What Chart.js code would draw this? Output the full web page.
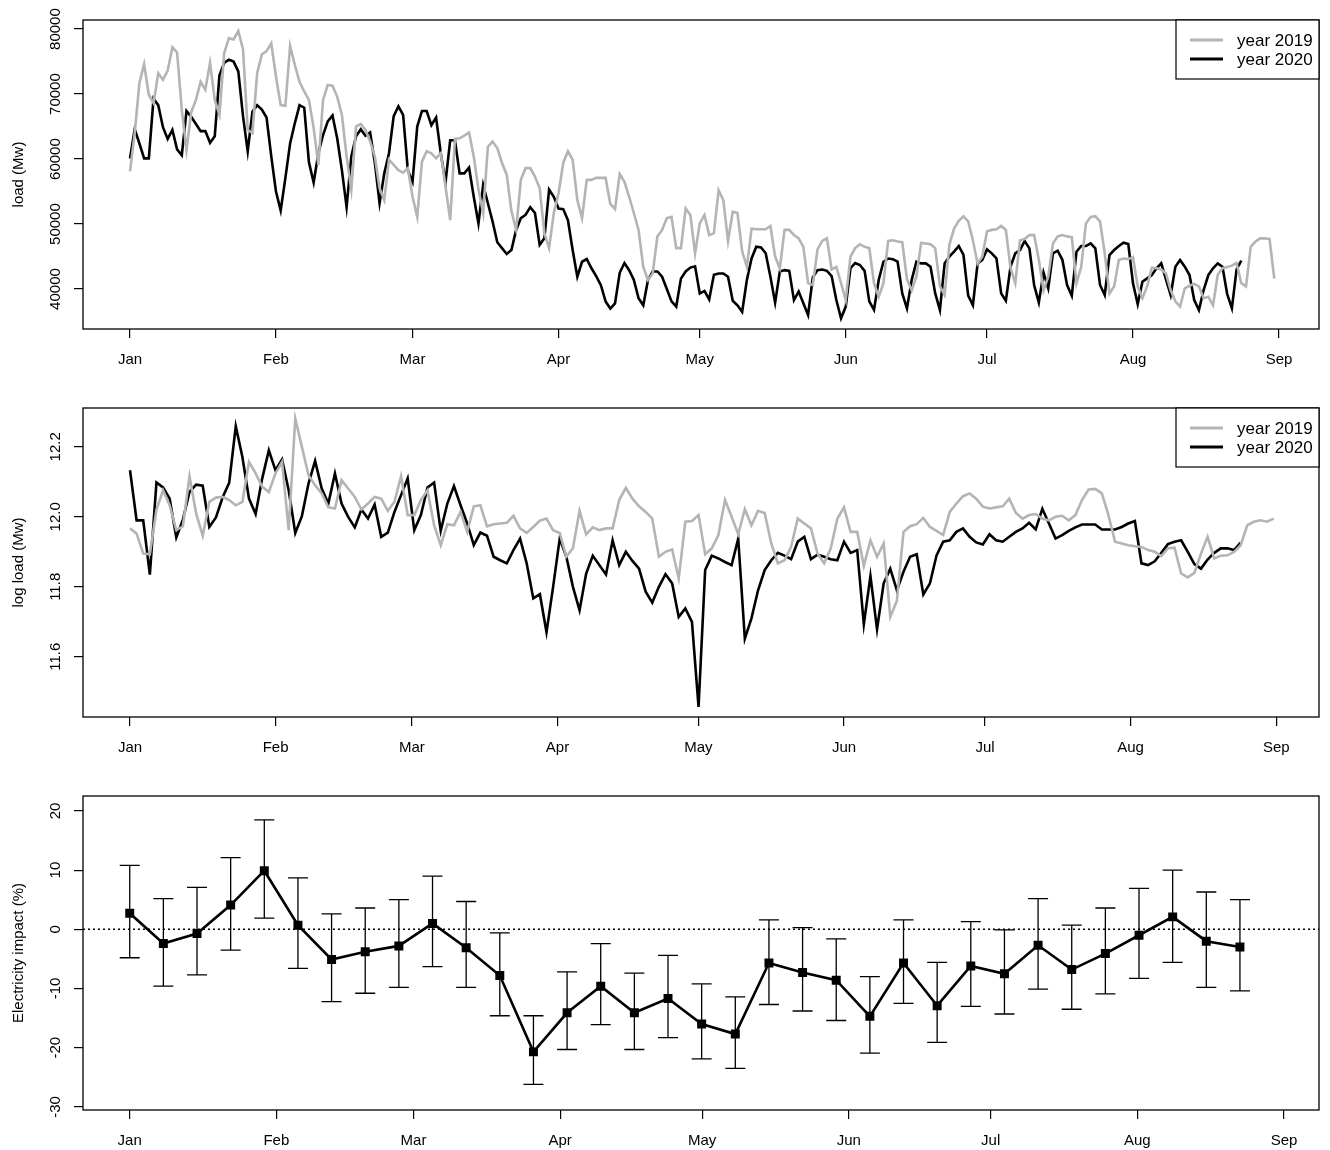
<!DOCTYPE html>
<html>
<head>
<meta charset="utf-8">
<script src="https://cdn.jsdelivr.net/npm/chart.js@4.4.0/dist/chart.umd.min.js"></script>
<style>
  body { margin: 0; background: #fff; }
  #contenedor { position: relative; width: 1330px; height: 1150px; }
  canvas { position: absolute; left: 0; }
</style>
</head>
<body>
<div id="contenedor">
  <canvas id="graficoCarga" width="1330" height="388" style="top:0"></canvas>
  <canvas id="graficoLogCarga" width="1330" height="388" style="top:388px"></canvas>
  <canvas id="graficoImpacto" width="1330" height="374" style="top:776px"></canvas>
</div>
<script>
// Ejes de meses
const meses = ['Jan', 'Feb', 'Mar', 'Apr', 'May', 'Jun', 'Jul', 'Aug', 'Sep'];
const diasMes = [0, 31, 60, 91, 121, 152, 182, 213, 244];

// Panel 1: carga diaria (Mw), un valor por dia desde el 1 de enero
const carga2019 = [
  58100, 64000, 71700, 74600, 69900, 68600, 73200, 72200, 73600, 77200,
  76400, 67600, 61400, 67200, 69100, 71900, 70700, 74800, 69100, 66800,
  76300, 78600, 78400, 79700, 76900, 64500, 64000, 73200, 76100, 76600,
  77800, 72700, 68300, 68200, 77400, 74500, 71900, 70400, 69100, 64800,
  59100, 69100, 71400, 71300, 69600, 66800, 60400, 55300, 65000, 65400,
  64500, 62700, 60400, 55500, 53700, 59900, 59100, 58300, 57900, 58600,
  54200, 51100, 59600, 61200, 60900, 60100, 60900, 55800, 50600, 63100,
  63200, 63600, 64100, 60400, 55300, 51700, 61900, 62700, 61700, 59400,
  57600, 52000, 49100, 56800, 58600, 58600, 57300, 55500, 48600, 46300,
  51700, 54700, 59400, 61200, 59900, 53700, 50900, 56800, 56800, 57100,
  57100, 57100, 53100, 52300, 57700, 56500, 54200, 51700, 49100, 43400,
  41400, 42400, 48100, 49100, 50900, 51100, 46300, 46300, 52400, 51400,
  45500, 50100, 51400, 48300, 48600, 55200, 53700, 47400, 51900, 51700,
  45800, 43400, 49300, 49200, 49200, 49200, 49700, 45000, 43200, 49100,
  49100, 48300, 47800, 46500, 40900, 40600, 46100, 47400, 47800, 43000,
  43400, 40900, 38300, 45000, 46300, 46900, 46500, 46300, 40900, 38800,
  40900, 47400, 47500, 47300, 47200, 41500, 39800, 41900, 47100, 47000,
  46900, 46300, 40400, 39100, 46800, 49300, 50500, 51200, 50400, 47500,
  43900, 45000, 48900, 49100, 49200, 49700, 49100, 43200, 40900, 47500,
  47700, 48300, 48300, 44500, 39800, 41900, 47000, 48100, 48300, 48100,
  48000, 40900, 43400, 50100, 51100, 51200, 50400, 45500, 39300, 40400,
  44500, 44700, 44600, 44900, 40400, 38600, 40400, 43300, 43200, 43000,
  42400, 39800, 38100, 37300, 40100, 40500, 40800, 40400, 38600, 38800,
  37500, 42200, 43200, 43400, 43600, 44000, 40900, 40400, 46500, 47300,
  47800, 47800, 47700, 41600
];
const carga2020 = [
  60100, 64600, 62400, 60100, 60100, 69300, 68300, 64900, 63100, 64500,
  61500, 60600, 67400, 66500, 65400, 64300, 64300, 62500, 63500, 72900,
  74800, 75300, 75000, 73500, 66600, 61200, 67300, 68300, 67600, 66400,
  60400, 55000, 52100, 57100, 62400, 65500, 68300, 67900, 59500, 56400,
  60900, 63700, 65800, 66700, 63200, 58300, 52600, 60400, 63500, 64600,
  63600, 64100, 59400, 53200, 57800, 60900, 66600, 68100, 66800, 58300,
  56500, 65000, 67400, 67400, 65200, 66400, 60900, 56400, 62900, 62900,
  57800, 57800, 58700, 54200, 50100, 56000, 53200, 50400, 47200, 46300,
  45400, 46000, 49100, 50900, 51400, 52600, 51700, 46800, 47800, 55300,
  54200, 52400, 52300, 50600, 46000, 41900, 44200, 44600, 43200, 42000,
  40600, 38100, 37000, 37800, 42500, 44000, 42900, 41400, 38600, 37500,
  41400, 42700, 42700, 41900, 40000, 38100, 37300, 41600, 42700, 43300,
  43500, 39300, 39700, 38400, 42200, 42400, 42400, 41900, 38200, 37500,
  36500, 41400, 44700, 46500, 46400, 45500, 41900, 37900, 42700, 42900,
  42800, 38300, 39600, 37800, 36000, 41800, 42900, 43000, 42800, 42000,
  38300, 35500, 37300, 43200, 44000, 43700, 42800, 38100, 36800, 41400,
  44200, 44700, 44600, 44210, 39330, 37020, 41380, 44210, 43950, 43950,
  43440, 39330, 36760, 43950, 44980, 45750, 46620, 45240, 39000, 37530,
  43950, 44470, 46110, 45490, 44720, 39330, 38200, 43440, 45490, 46000,
  47390, 46260, 40620, 37940, 42520, 40110, 45500, 45900, 44500, 40620,
  38970, 45750, 46620, 46620, 47030, 46260, 40620, 39080, 45240, 46000,
  46620, 47130, 46930, 40870, 37680, 41130, 41640, 42150, 43180, 43950,
  41490, 39080, 43440, 44470, 43440, 42150, 38300, 36760, 39840, 42150,
  43180, 43950, 43440, 39230, 37020, 43030, 44370
];
const ticksCarga = [40000, 50000, 60000, 70000, 80000];

// Panel 2: log de la carga, dias laborables
const logCarga2019 = [
  11.967, 11.952, 11.895, 11.893, 12.020, 12.076, 12.033, 11.962, 11.973, 12.116,
  12.010, 11.946, 12.043, 12.055, 12.057, 12.048, 12.033, 12.043, 12.157, 12.124,
  12.086, 12.071, 12.124, 12.157, 11.962, 12.281, 12.200, 12.119, 12.090, 12.067,
  12.027, 12.024, 12.105, 12.081, 12.057, 12.021, 12.038, 12.057, 12.052, 12.017,
  12.043, 12.116, 12.005, 12.005, 12.048, 12.076, 11.976, 11.919, 11.979,
  11.976, 12.014, 11.957, 12.030, 12.033, 11.973, 11.979, 11.981, 11.983, 12.003,
  11.967, 11.954, 11.971, 11.989, 11.995, 11.962, 11.954, 11.886, 11.910, 12.017,
  11.950, 11.970, 11.962, 11.967, 11.967, 12.048, 12.083, 12.052, 12.030, 12.014,
  11.995, 11.886, 11.900, 11.907, 11.824, 11.986, 11.988, 12.005, 11.893, 11.910,
  11.948, 12.048, 12.000, 11.950, 12.022, 11.976, 12.017, 12.011, 11.924, 11.867,
  11.876, 11.914, 11.995, 11.981, 11.967, 11.895, 11.867, 11.910, 11.995, 12.027,
  11.957, 11.957, 11.860, 11.933, 11.886, 11.924,
  11.714, 11.760, 11.957, 11.973, 11.979, 11.997, 11.971, 11.960, 11.948, 12.014,
  12.038, 12.059, 12.067, 12.052, 12.029, 12.024, 12.027, 12.030, 12.052, 12.011,
  11.995, 12.005, 12.008, 11.995, 11.990, 12.000, 12.003, 11.990, 12.005, 12.048,
  12.078, 12.080, 12.067, 12.005, 11.929, 11.924, 11.919, 11.916, 11.914, 11.905,
  11.900, 11.888, 11.910, 11.912, 11.838, 11.827, 11.840, 11.895, 11.943, 11.881,
  11.889, 11.890, 11.900, 11.919, 11.976, 11.986, 11.990, 11.986, 11.995
];
const logCarga2020 = [
  12.133, 11.990, 11.990, 11.835, 12.098, 12.084, 12.052, 11.941, 11.992, 12.071,
  12.092, 12.089, 11.971, 11.998, 12.055, 12.097, 12.259, 12.171, 12.052, 12.008,
  12.110, 12.190, 12.133, 12.164, 12.076, 11.954, 12.002, 12.095, 12.160, 12.081,
  12.038, 12.124, 12.038, 12.000, 11.970, 12.021, 11.995, 12.035, 11.943, 11.955,
  12.014, 12.062, 12.110, 11.962, 12.005, 12.084, 12.098, 11.960, 12.038,
  12.088, 12.033, 11.981, 11.919, 11.955, 11.946, 11.886, 11.876, 11.867, 11.905,
  11.938, 11.867, 11.767, 11.779, 11.670, 11.800, 11.938, 11.886, 11.800, 11.733,
  11.838, 11.889, 11.862, 11.835, 11.933, 11.862, 11.900, 11.874, 11.852, 11.786,
  11.755, 11.800, 11.836, 11.810, 11.714, 11.738, 11.700, 11.457, 11.848, 11.889,
  11.881, 11.871, 11.862, 11.938, 11.652, 11.710, 11.790, 11.848, 11.876, 11.897,
  11.889, 11.879, 11.929, 11.943, 11.879, 11.892, 11.886, 11.879, 11.876, 11.929,
  11.897, 11.905, 11.693, 11.831, 11.679, 11.810, 11.852,
  11.790, 11.843, 11.886, 11.893, 11.778, 11.810, 11.890, 11.929, 11.933, 11.957,
  11.967, 11.943, 11.927, 11.921, 11.950, 11.933, 11.929, 11.943, 11.957, 11.967,
  11.983, 11.964, 12.023, 11.981, 11.938, 11.948, 11.960, 11.970, 11.978, 11.978,
  11.978, 11.964, 11.964, 11.964, 11.971, 11.981, 11.988, 11.867, 11.862, 11.873,
  11.897, 11.922, 11.929, 11.933, 11.900, 11.865, 11.852, 11.878, 11.897, 11.910,
  11.910, 11.905, 11.926
];
const ticksLog = [11.6, 11.8, 12.0, 12.2];

// Panel 3: impacto semanal (%) con intervalo
const impacto = [2.7, -2.4, -0.7, 4.1, 9.9, 0.7, -5.1, -3.8, -2.8, 1.0, -3.1, -7.8, -20.7, -14.1, -9.6, -14.1, -11.7,
  -16.0, -17.7, -5.7, -7.3, -8.6, -14.7, -5.7, -12.9, -6.2, -7.5, -2.7, -6.8, -4.1, -1.0, 2.1, -2.0, -3.0];
const impactoAlto = [10.8, 5.2, 7.1, 12.1, 18.5, 8.7, 2.6, 3.6, 5.0, 9.0, 4.7, -0.6, -14.6, -7.2, -2.4, -7.4, -4.4,
  -9.2, -11.4, 1.6, 0.3, -1.6, -8.0, 1.6, -5.6, 1.3, -0.1, 5.2, 0.7, 3.6, 6.9, 10.0, 6.3, 5.0];
const impactoBajo = [-4.8, -9.6, -7.7, -3.5, 1.9, -6.6, -12.2, -10.8, -9.8, -6.3, -9.8, -14.6, -26.2, -20.3, -16.1, -20.3, -18.3,
  -21.9, -23.5, -12.7, -13.8, -15.4, -20.9, -12.5, -19.1, -13.0, -14.3, -10.1, -13.5, -10.9, -8.3, -5.6, -9.8, -10.4];
const ticksImpacto = [-30, -20, -10, 0, 10, 20];

const FUENTE = '"Liberation Sans", Arial, Helvetica, sans-serif';
const GRIS = '#b4b4b4';
Chart.defaults.font.family = FUENTE;
Chart.defaults.font.size = 15;
Chart.defaults.color = '#000';

const puntos = serie => serie.map((v, i) => ({ x: i, y: v }));

function ejeMeses(min, max, alto) {
    return {
        type: 'linear', min: min, max: max,
        afterBuildTicks: eje => { eje.ticks = diasMes.map(v => ({ value: v })); },
        afterFit: eje => { eje.height = alto; },
        ticks: { callback: (v, i) => meses[i], autoSkip: false, maxRotation: 0, padding: 13 },
        grid: { drawOnChartArea: false, tickLength: 9, color: '#000', lineWidth: 1.2 },
        border: { display: false }
    };
}

function ejeValores(min, max, valores) {
    return {
        type: 'linear', min: min, max: max,
        afterBuildTicks: eje => { eje.ticks = valores.map(v => ({ value: v })); },
        afterFit: eje => { eje.width = 83; },
        ticks: { display: false },
        grid: { drawOnChartArea: false, tickLength: 9, color: '#000', lineWidth: 1.2 },
        border: { display: false }
    };
}

// caja alrededor del area, como box() de R
const marco = {
    id: 'marco',
    afterDraw(chart) {
        const { ctx, chartArea: a } = chart;
        ctx.save();
        ctx.strokeStyle = '#000';
        ctx.lineWidth = 1.3;
        ctx.strokeRect(a.left, a.top, a.right - a.left, a.bottom - a.top);
        ctx.restore();
    }
};

// etiquetas del eje y giradas y titulo
function ejeY(titulo, formato) {
    return {
        id: 'ejeY',
        afterDraw(chart) {
            const { ctx, chartArea: a } = chart;
            const y = chart.scales.y;
            ctx.save();
            ctx.fillStyle = '#000';
            ctx.font = '15px ' + FUENTE;
            ctx.textAlign = 'center';
            ctx.textBaseline = 'middle';
            y.ticks.forEach(t => {
                ctx.save();
                ctx.translate(56, y.getPixelForValue(t.value));
                ctx.rotate(-Math.PI / 2);
                ctx.fillText(formato(t.value), 0, 0);
                ctx.restore();
            });
            ctx.translate(19, (a.top + a.bottom) / 2);
            ctx.rotate(-Math.PI / 2);
            ctx.fillText(titulo, 0, 0);
            ctx.restore();
        }
    };
}

const leyenda = {
    id: 'leyenda',
    afterDraw(chart) {
        const { ctx, chartArea: a } = chart;
        const x0 = a.right - 143, y0 = a.top;
        ctx.save();
        ctx.fillStyle = '#fff';
        ctx.fillRect(x0, y0, 143, 59);
        ctx.strokeStyle = '#000';
        ctx.lineWidth = 1.2;
        ctx.strokeRect(x0, y0, 143, 59);
        ctx.font = '17px ' + FUENTE;
        ctx.textBaseline = 'middle';
        chart.data.datasets.forEach((ds, i) => {
            const yy = y0 + 20 + i * 19;
            ctx.strokeStyle = ds.borderColor;
            ctx.lineWidth = 3;
            ctx.beginPath();
            ctx.moveTo(x0 + 14, yy);
            ctx.lineTo(x0 + 47, yy);
            ctx.stroke();
            ctx.fillStyle = '#000';
            ctx.fillText(ds.label, x0 + 61, yy + 1);
        });
        ctx.restore();
    }
};

// linea punteada en 0 y barras de error
const barrasError = {
    id: 'barrasError',
    beforeDatasetsDraw(chart) {
        const { ctx, chartArea: a } = chart;
        const xi = chart.scales.xi, y = chart.scales.y;
        ctx.save();
        ctx.strokeStyle = '#000';
        ctx.lineWidth = 1.5;
        ctx.setLineDash([2, 3]);
        const y0 = y.getPixelForValue(0);
        ctx.beginPath();
        ctx.moveTo(a.left, y0);
        ctx.lineTo(a.right, y0);
        ctx.stroke();
        ctx.setLineDash([]);
        ctx.lineWidth = 1.3;
        impactoAlto.forEach((alto, i) => {
            const px = xi.getPixelForValue(i);
            const pa = y.getPixelForValue(alto);
            const pb = y.getPixelForValue(impactoBajo[i]);
            ctx.beginPath();
            ctx.moveTo(px, pa); ctx.lineTo(px, pb);
            ctx.moveTo(px - 10, pa); ctx.lineTo(px + 10, pa);
            ctx.moveTo(px - 10, pb); ctx.lineTo(px + 10, pb);
            ctx.stroke();
        });
        ctx.restore();
    }
};

function linea(label, serie, color, eje) {
    return {
        label: label,
        data: puntos(serie),
        xAxisID: eje,
        borderColor: color,
        borderWidth: 2.6,
        pointRadius: 0,
        tension: 0,
        fill: false
    };
}

const comunes = {
    responsive: false,
    animation: false,
    events: [],
    layout: { padding: { top: 20, right: 11, left: 0, bottom: 0 } },
    plugins: { legend: { display: false }, tooltip: { enabled: false } }
};

document.addEventListener('DOMContentLoaded', () => {

    /* graficoCarga */
    new Chart(document.getElementById('graficoCarga'), {
        type: 'line',
        data: {
            datasets: [
                linea('year 2019', carga2019, GRIS, 'x'),
                linea('year 2020', carga2020, '#000', 'x')
            ]
        },
        options: {
            ...comunes,
            scales: {
                x: ejeMeses(-9.98, 252.5, 59),
                y: ejeValores(33850, 81400, ticksCarga)
            }
        },
        plugins: [marco, ejeY('load (Mw)', v => String(v)), leyenda]
    });

    /* graficoLogCarga */
    new Chart(document.getElementById('graficoLogCarga'), {
        type: 'line',
        data: {
            datasets: [
                linea('year 2019', logCarga2019, GRIS, 'xi'),
                linea('year 2020', logCarga2020, '#000', 'xi')
            ]
        },
        options: {
            ...comunes,
            scales: {
                x: ejeMeses(-10.0, 253.1, 59),
                xi: { type: 'linear', display: false, min: -7.11, max: 179.85 },
                y: ejeValores(11.428, 12.311, ticksLog)
            }
        },
        plugins: [marco, ejeY('log load (Mw)', v => v.toFixed(1)), leyenda]
    });

    /* graficoImpacto */
    new Chart(document.getElementById('graficoImpacto'), {
        type: 'line',
        data: {
            datasets: [{
                label: 'impact',
                data: puntos(impacto),
                xAxisID: 'xi',
                borderColor: '#000',
                backgroundColor: '#000',
                borderWidth: 2.6,
                pointStyle: 'rect',
                pointRadius: 4.5,
                tension: 0
            }]
        },
        options: {
            ...comunes,
            scales: {
                x: ejeMeses(-9.87, 251.4, 40),
                xi: { type: 'linear', display: false, min: -1.389, max: 35.35 },
                y: ejeValores(-30.52, 22.52, ticksImpacto)
            }
        },
        plugins: [marco, ejeY('Electricity impact (%)', v => String(v)), barrasError]
    });

});
</script>
</body>
</html>
